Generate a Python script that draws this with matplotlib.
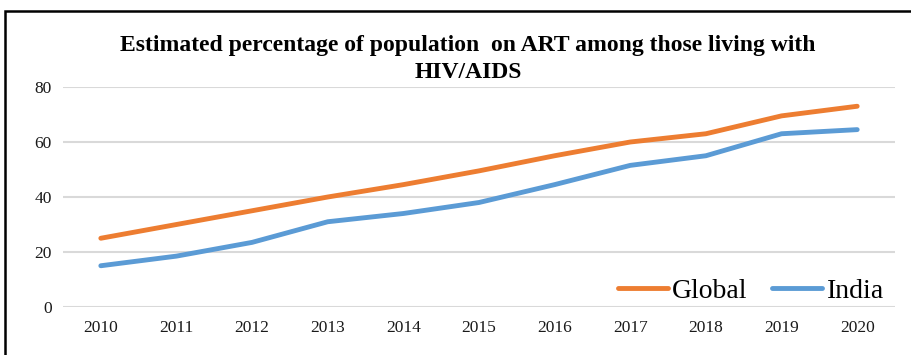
import matplotlib
matplotlib.use("Agg")
import matplotlib.pyplot as plt
from matplotlib.patches import Rectangle

years = ["2010", "2011", "2012", "2013", "2014", "2015", "2016", "2017", "2018", "2019", "2020"]
global_pct = [25, 30, 35, 40, 44.5, 49.5, 55, 60, 63, 69.5, 73]
india_pct = [15, 18.5, 23.5, 31, 34, 38, 44.5, 51.5, 55, 63, 64.5]
y_ticks = [0, 20, 40, 60, 80]

serif = ["Liberation Serif", "DejaVu Serif"]

W, H = 912, 355
fig = plt.figure(figsize=(W / 100, H / 100), dpi=100)
ax = fig.add_axes([63 / W, 1 - 307 / H, (895 - 63) / W, (307 - 87) / H])

x = list(range(len(years)))
ax.plot(x, global_pct, color="#ED7D31", lw=3.5, solid_capstyle="round", label="Global")
ax.plot(x, india_pct, color="#5B9BD5", lw=3.5, solid_capstyle="round", label="India")

ax.set_xlim(-0.5, len(years) - 0.5)
ax.set_ylim(0, 80)
ax.set_yticks(y_ticks)
ax.set_yticklabels([str(v) for v in y_ticks], fontfamily=serif, fontsize=12.5, color="#1a1a1a")
ax.set_xticks(x)
ax.set_xticklabels(years, fontfamily=serif, fontsize=12.5, color="#1a1a1a")
ax.tick_params(length=0)
ax.tick_params(axis="x", pad=9)
ax.tick_params(axis="y", pad=8)
ax.grid(axis="y", color="#D9D9D9", lw=1.5)
ax.set_axisbelow(True)
for s in ax.spines.values():
    s.set_visible(False)

leg = ax.legend(loc="lower right", ncol=2, frameon=False, handlelength=1.8,
                handletextpad=0.15, columnspacing=0.9,
                prop={"family": serif, "size": 20},
                bbox_to_anchor=(1.0, -0.035), borderaxespad=0.0)

fig.text(468 / W, 1 - 45 / H,
         "Estimated percentage of population  on ART among those living with",
         ha="center", va="center", fontfamily=serif, fontweight="bold", fontsize=17)
fig.text(468 / W, 1 - 72 / H, "HIV/AIDS",
         ha="center", va="center", fontfamily=serif, fontweight="bold", fontsize=17)

# outer frame
fig.add_artist(Rectangle((5 / W, -0.2), 1.2, 1.2 - 11 / H, transform=fig.transFigure,
                         fill=False, edgecolor="black", lw=1.8, clip_on=False))

fig.savefig("out.png", dpi=100)
